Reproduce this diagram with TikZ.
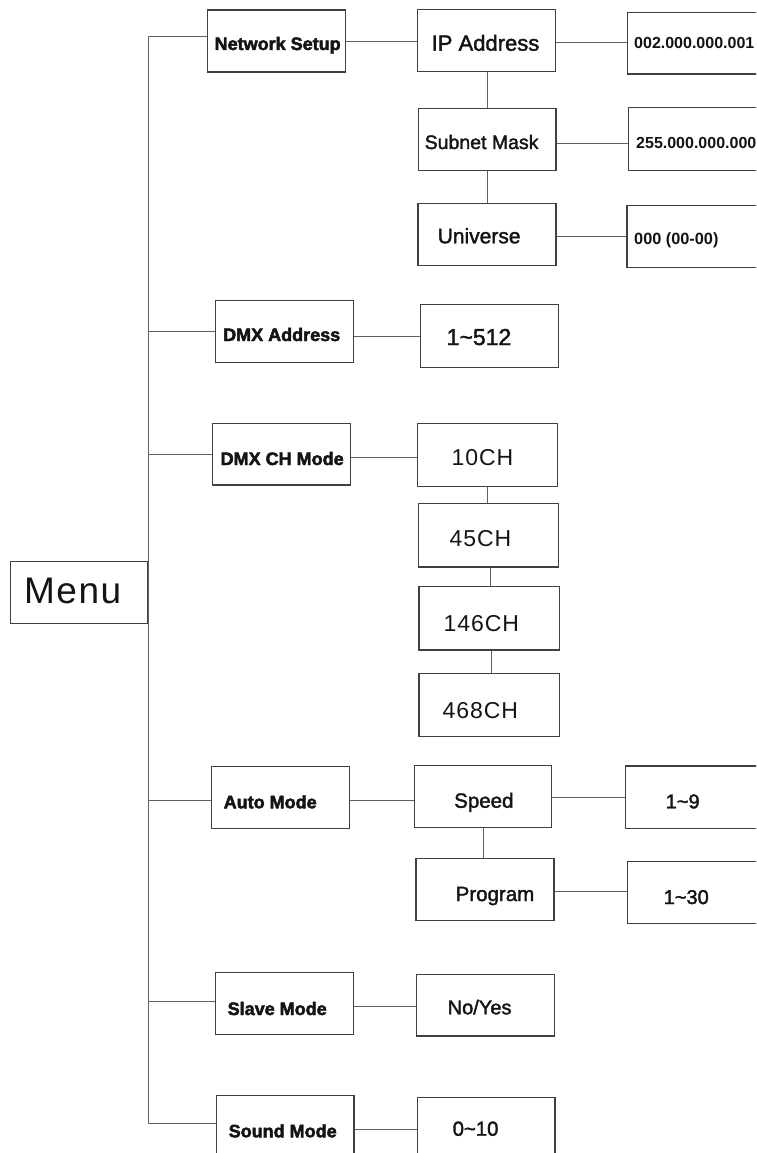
\documentclass[tikz,border=0pt]{standalone}
\usepackage{fontspec}
\setmainfont{Liberation Sans}
\newfontfamily\hv{Liberation Sans Bold}[FakeBold=2.5]
\newfontfamily\md{Liberation Sans}[FakeBold=1.8]
\newfontfamily\bd{Liberation Sans Bold}
\newfontfamily\ls{Liberation Sans}[LetterSpace=4]
\usetikzlibrary{fit}
\newcommand\fs[1]{\fontsize{#1pt}{#1pt}\selectfont}
\newcommand\tl{\textasciitilde}
\tikzset{
  box/.style={draw=black!75, line width=1.1pt, rectangle, inner sep=0pt},
  conn/.style={draw=black!62, line width=1pt},
  t/.style={anchor=base west, inner sep=0pt, text=black!92},
}
\newcommand\bx[5]{\node[box, fit={(#2,#3) (#4,#5)}] (#1) {};}
\begin{document}
\begin{tikzpicture}[x=1pt,y=-1pt]
\useasboundingbox (0,0) rectangle (756,1153);
\fill[white] (0,0) rectangle (756,1153);
\clip (0,0) rectangle (756,1153);
% boxes
\bx{menu}{10.3}{561.3}{148}{623.3}
\bx{ns}{207.7}{10}{345.7}{72}
\bx{ip}{417.7}{9.3}{555.7}{71.3}
\bx{sm}{418.3}{108.3}{556}{170.3}
\bx{uv}{418}{203.7}{556}{265.7}
\bx{v1}{627.3}{12.3}{790}{74}
\bx{v2}{628.7}{107.7}{790}{170.3}
\bx{v3}{627}{205.7}{790}{267.7}
\bx{da}{215.7}{300.7}{353.3}{362.7}
\bx{d512}{420.3}{304.3}{558.3}{367.3}
\bx{cm}{212.7}{423.3}{350.3}{485}
\bx{c10}{417.3}{423.3}{557.7}{486.3}
\bx{c45}{418.3}{503.7}{558.3}{567}
\bx{c146}{419}{586.7}{559.3}{650}
\bx{c468}{419}{673.3}{559.3}{736.7}
\bx{am}{211.3}{766.3}{349.3}{828.3}
\bx{sp}{414.3}{765.3}{551.7}{827.3}
\bx{v19}{625.7}{766}{790}{828.3}
\bx{pg}{416}{858.3}{554}{920.3}
\bx{v130}{627.3}{861.7}{790}{923.7}
\bx{slm}{215.7}{972.7}{353.3}{1034.7}
\bx{ny}{416.3}{974.3}{554.3}{1036}
\bx{som}{216.7}{1095.3}{354}{1170}
\bx{z10}{417.3}{1097.3}{555}{1170}
% trunk
\coordinate (b1) at (148,36.7);
\coordinate (b2) at (148,331.7);
\coordinate (b3) at (148,454.3);
\coordinate (b4) at (148,800.7);
\coordinate (b5) at (148,1001.3);
\coordinate (b6) at (148,1123.3);
\draw[conn] (b1) -- (b6);
\draw[conn] (b1) -- (b1 -| ns.west);
\draw[conn] (b2) -- (b2 -| da.west);
\draw[conn] (b3) -- (b3 -| cm.west);
\draw[conn] (b4) -- (b4 -| am.west);
\draw[conn] (b5) -- (b5 -| slm.west);
\draw[conn] (b6) -- (b6 -| som.west);
% horizontal connectors
\draw[conn] (ns.east |- 0,41.7) -- (ip.west |- 0,41.7);
\draw[conn] (ip.east |- 0,42.7) -- (v1.west |- 0,42.7);
\draw[conn] (sm.east |- 0,143.3) -- (v2.west |- 0,143.3);
\draw[conn] (uv.east |- 0,236.7) -- (v3.west |- 0,236.7);
\draw[conn] (da.east |- 0,336) -- (d512.west |- 0,336);
\draw[conn] (cm.east |- 0,457.3) -- (c10.west |- 0,457.3);
\draw[conn] (am.east |- 0,800.3) -- (sp.west |- 0,800.3);
\draw[conn] (sp.east |- 0,797.3) -- (v19.west |- 0,797.3);
\draw[conn] (pg.east |- 0,891) -- (v130.west |- 0,891);
\draw[conn] (slm.east |- 0,1006.7) -- (ny.west |- 0,1006.7);
\draw[conn] (som.east |- 0,1129.3) -- (z10.west |- 0,1129.3);
% vertical connectors
\draw[conn] (ip.south -| 487.3,0) -- (sm.north -| 487.3,0);
\draw[conn] (sm.south -| 487.3,0) -- (uv.north -| 487.3,0);
\draw[conn] (c10.south -| 487.3,0) -- (c45.north -| 487.3,0);
\draw[conn] (c45.south -| 490.7,0) -- (c146.north -| 490.7,0);
\draw[conn] (c146.south -| 491.7,0) -- (c468.north -| 491.7,0);
\draw[conn] (sp.south -| 483,0) -- (pg.north -| 483,0);
% texts
\node[t, font=\ls\fs{37}] (tmenu) at (24,603.3) {Menu};
\node[t, font=\hv\fs{18}] (tns) at (214.5,50) {Network Setup};
\node[t, font=\md\fs{22}] (tip) at (431.5,50.7) {IP Address};
\node[t, font=\md\fs{19.5}] (tsm) at (424.5,149) {Subnet Mask};
\node[t, font=\md\fs{21}] (tuv) at (437.5,243.3) {Universe};
\node[t, font=\bd\fs{16}] (tv1) at (634,48.5) {002.000.000.001};
\node[t, font=\bd\fs{16}] (tv2) at (636,149) {255.000.000.000};
\node[t, font=\bd\fs{16.3}] (tv3) at (634,244) {000 (00-00)};
\node[t, font=\hv\fs{18}] (tda) at (223,341) {DMX Address};
\node[t, font=\md\fs{23}] (t512) at (446.5,345) {1\tl512};
\node[t, font=\hv\fs{18}] (tcm) at (220.5,465) {DMX CH Mode};
\node[t, font=\ls\fs{23}] (t10) at (451.5,465) {10CH};
\node[t, font=\ls\fs{23}] (t45) at (449.5,546.7) {45CH};
\node[t, font=\ls\fs{23}] (t146) at (443.5,631.7) {146CH};
\node[t, font=\ls\fs{23}] (t468) at (442.5,718.3) {468CH};
\node[t, font=\hv\fs{18}] (tam) at (223.5,808.3) {Auto Mode};
\node[t, font=\md\fs{20.5}] (tsp) at (454,807.7) {Speed};
\node[t, font=\md\fs{20}] (t19) at (665.5,808.3) {1\tl9};
\node[t, font=\md\fs{20.5}] (tpg) at (455.5,901) {Program};
\node[t, font=\md\fs{20}] (t130) at (663.5,904) {1\tl30};
\node[t, font=\hv\fs{18}] (tslm) at (227.5,1015) {Slave Mode};
\node[t, font=\md\fs{20}] (tny) at (447.5,1014.3) {No/Yes};
\node[t, font=\hv\fs{18}] (tsom) at (228.5,1137.3) {Sound Mode};
\node[t, font=\md\fs{20.3}] (tz10) at (452.5,1135.7) {0\tl10};
\end{tikzpicture}
\end{document}
